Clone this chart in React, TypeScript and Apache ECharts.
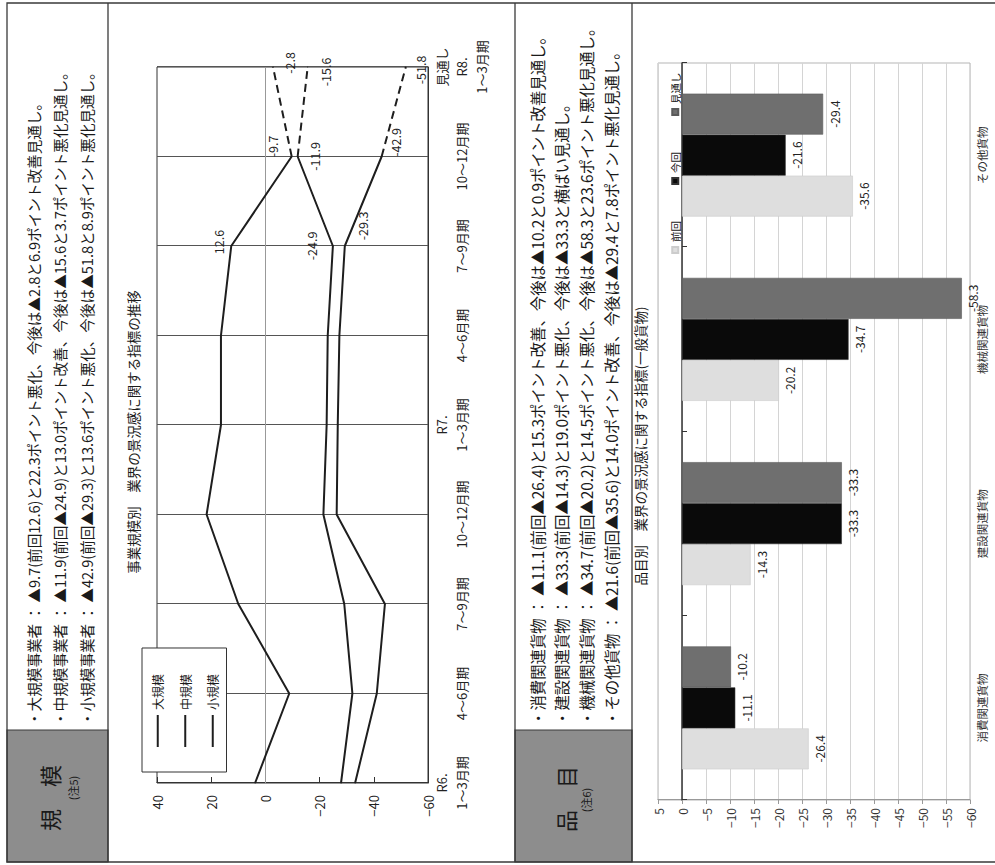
import React, { useEffect, useRef } from "react";
import * as echarts from "echarts";

const FONT = '"Noto Sans CJK JP", "Noto Sans", sans-serif';

// ---------- line chart data ----------
const periodYears = ["R6.", "", "", "", "R7.", "", "", "", "見通し\nR8."];
const periodQuarters = ["1～3月期", "4～6月期", "7～9月期", "10～12月期", "1～3月期", "4～6月期", "7～9月期", "10～12月期", "1～3月期"];
const scaleNames = ["大規模", "中規模", "小規模"];
const largeValues = [3.8, -8.8, 10.0, 21.7, 16.4, 16.4, 12.6, -9.7, -2.8];
const mediumValues = [-27.9, -32.1, -29.1, -21.4, -22.6, -23.0, -24.9, -11.9, -15.6];
const smallValues = [-33.1, -41.1, -44.1, -26.3, -26.7, -27.3, -29.3, -42.9, -51.8];
const lineAxisMin = -60;
const lineAxisMax = 40;
const lineAxisStep = 20;

// ---------- bar chart data ----------
const itemCategories = ["消費関連貨物", "建設関連貨物", "機械関連貨物", "その他貨物"];
const barSeriesNames = ["前回", "今回", "見通し"];
const previousValues = [-26.4, -14.3, -20.2, -35.6];
const currentValues = [-11.1, -33.3, -34.7, -21.6];
const outlookValues = [-10.2, -33.3, -58.3, -29.4];
const barAxisMin = -60;
const barAxisMax = 5;
const barAxisStep = 5;

// ---------- texts ----------
const lineChartTitle = "事業規模別　業界の景況感に関する指標の推移";
const barChartTitle = "品目別　業界の景況感に関する指標(一般貨物)";
const scaleHeader = "規　模";
const scaleNote = "(注5)";
const itemHeader = "品　目";
const itemNote = "(注6)";
const scaleNotes = [
  "・大規模事業者 ： ▲9.7(前回12.6)と22.3ポイント悪化、今後は▲2.8と6.9ポイント改善見通し。",
  "・中規模事業者 ： ▲11.9(前回▲24.9)と13.0ポイント改善、今後は▲15.6と3.7ポイント悪化見通し。",
  "・小規模事業者 ： ▲42.9(前回▲29.3)と13.6ポイント悪化、今後は▲51.8と8.9ポイント悪化見通し。",
];
const itemNotes = [
  "・消費関連貨物 ： ▲11.1(前回▲26.4)と15.3ポイント改善、今後は▲10.2と0.9ポイント改善見通し。",
  "・建設関連貨物 ： ▲33.3(前回▲14.3)と19.0ポイント悪化、今後は▲33.3と横ばい見通し。",
  "・機械関連貨物 ： ▲34.7(前回▲20.2)と14.5ポイント悪化、今後は▲58.3と23.6ポイント悪化見通し。",
  "・その他貨物 ： ▲21.6(前回▲35.6)と14.0ポイント改善、今後は▲29.4と7.8ポイント悪化見通し。",
];

// ---------- styling ----------
const INK = "#1e1e1e";
const FRAME = "#3a3a3a";
const HEADER_GRAY = "#8d8d8d";
const barColors = ["#dedede", "#0a0a0a", "#6f6f6f"];
const barBorders = ["#cccccc", "#333333", "#5a5a5a"];
const labelPlacement: any[] = [
  { 6: { position: "top", offset: [4, -1] }, 7: { position: "top", offset: [10, -7] }, 8: { position: "bottom", offset: [4, 5] } },
  { 6: { position: "top", offset: [0, -10] }, 7: { position: "bottom", offset: [0, 5] }, 8: { position: "bottom", offset: [-5, 6] } },
  { 6: { position: "bottom", offset: [20, 6] }, 7: { position: "bottom", offset: [14, 2] }, 8: { position: "bottom", offset: [-3, 3] } },
];
const minus = (v: any) => String(v).replace("-", "−");

function buildOption() {
  const categories = periodQuarters.map((q, i) => `${periodYears[i]}\n${q}`);
  const last = periodQuarters.length - 1;
  const lineSets = [largeValues, mediumValues, smallValues];
  const lineSeries: any[] = [];
  lineSets.forEach((vals, s) => {
    const place = labelPlacement[s];
    const withLabel = (v: number, i: number) =>
      place[i] ? { value: v, label: { show: true, ...place[i] } } : v;
    const common = {
      type: "line",
      xAxisIndex: 0,
      yAxisIndex: 0,
      symbol: "circle",
      symbolSize: 1,
      silent: true,
      itemStyle: { color: INK },
      label: { show: false, fontSize: 12.5, color: "#222", fontFamily: FONT },
      z: 3,
    };
    lineSeries.push({
      ...common,
      name: scaleNames[s],
      data: vals.map((v, i) => (i === last ? null : withLabel(v, i))),
      lineStyle: { color: INK, width: 2 },
      ...(s === 0
        ? {
            markLine: {
              silent: true,
              symbol: "none",
              label: { show: false },
              lineStyle: { color: "#999", type: "solid", width: 1 },
              data: [{ yAxis: 0 }],
              z: 1,
            },
          }
        : {}),
    });
    lineSeries.push({
      ...common,
      name: scaleNames[s] + "見通し",
      data: vals.map((v, i) => (i < last - 1 ? null : i === last ? withLabel(v, i) : v)),
      lineStyle: { color: INK, width: 2, type: [8, 5] },
    });
  });

  const barSets = [previousValues, currentValues, outlookValues];
  const barSeries = barSets.map((vals, i) => ({
    name: barSeriesNames[i],
    type: "bar",
    xAxisIndex: 1,
    yAxisIndex: 1,
    data: vals,
    barWidth: 41,
    barGap: "0%",
    silent: true,
    itemStyle: { color: barColors[i], borderColor: barBorders[i], borderWidth: 0.6 },
    label: { show: true, position: "bottom", distance: 5, fontSize: 12, color: "#222", fontFamily: FONT },
  }));

  const textEl = (text: string, x: number, y: number, fontSize: number, align = "left") => ({
    type: "text",
    x,
    y,
    silent: true,
    style: { text, fontSize, fontFamily: FONT, fill: "#1a1a1a", align, verticalAlign: "middle" },
  });
  const hLine = (v: number) => ({
    type: "line",
    silent: true,
    shape: { x1: 3, y1: v, x2: 862, y2: v },
    style: { stroke: FRAME, lineWidth: 1.3 },
  });

  const graphicEls: any[] = [
    { type: "rect", silent: true, shape: { x: 3, y: 7, width: 132, height: 101 }, style: { fill: HEADER_GRAY, stroke: FRAME, lineWidth: 1.2 } },
    { type: "rect", silent: true, shape: { x: 3, y: 515, width: 132, height: 117 }, style: { fill: HEADER_GRAY, stroke: FRAME, lineWidth: 1.2 } },
    { type: "rect", silent: true, shape: { x: 3, y: 7, width: 859, height: 1100 }, style: { fill: "transparent", stroke: FRAME, lineWidth: 1.3 } },
    hLine(108),
    hLine(515),
    hLine(632),
    textEl(scaleHeader, 67, 49, 22, "center"),
    textEl(scaleNote, 77, 73, 11, "center"),
    textEl(itemHeader, 66, 565, 22, "center"),
    textEl(itemNote, 65, 586, 11, "center"),
  ];
  const scaleLineV = [33, 59, 86];
  scaleNotes.forEach((t, i) => graphicEls.push(textEl(t, 139, scaleLineV[i], 14.6)));
  const itemLineV = [537, 561, 586, 611];
  itemNotes.forEach((t, i) => graphicEls.push(textEl(t, 139, itemLineV[i], 15.4)));

  return {
    animation: false,
    backgroundColor: "#ffffff",
    textStyle: { fontFamily: FONT },
    title: [
      { text: lineChartTitle, left: 433, top: 126, textAlign: "center", padding: 0, textStyle: { fontSize: 13.5, fontWeight: "normal", color: "#1a1a1a", fontFamily: FONT } },
      { text: barChartTitle, left: 419, top: 633, textAlign: "center", padding: 0, textStyle: { fontSize: 13.5, fontWeight: "normal", color: "#1a1a1a", fontFamily: FONT } },
    ],
    legend: [
      {
        data: scaleNames,
        orient: "vertical",
        left: 93,
        top: 142,
        padding: [2, 26, 0, 25],
        itemGap: 0,
        itemWidth: 32,
        itemHeight: 2,
        icon: "rect",
        backgroundColor: "#ffffff",
        borderColor: "#333",
        borderWidth: 1,
        selectedMode: false,
        textStyle: { fontSize: 12, lineHeight: 27.5, color: "#1a1a1a", fontFamily: FONT },
      },
      {
        data: barSeriesNames,
        left: 611,
        top: 670,
        padding: 0,
        itemGap: 36,
        itemWidth: 6,
        itemHeight: 6,
        itemTextGap: 4,
        icon: "rect",
        selectedMode: false,
        textStyle: { fontSize: 10.5, color: "#222", fontFamily: FONT },
      },
    ],
    grid: [
      { left: 82, right: 67, top: 157, bottom: 567, show: true, borderColor: "#333", borderWidth: 1, containLabel: false },
      { left: 65, right: 63, top: 658, bottom: 25, show: true, borderColor: "#b5b5b5", borderWidth: 1, containLabel: false },
    ],
    xAxis: [
      {
        type: "category",
        gridIndex: 0,
        data: categories,
        boundaryGap: false,
        axisLine: { show: true, onZero: false, lineStyle: { color: "#333" } },
        axisTick: { show: false },
        axisLabel: { interval: 0, fontSize: 13, lineHeight: 20, margin: 3, color: "#222", fontFamily: FONT },
        splitLine: { show: true, interval: 0, lineStyle: { color: "#555", width: 1 } },
      },
      {
        type: "category",
        gridIndex: 1,
        data: itemCategories,
        position: "bottom",
        axisLine: { show: false, onZero: false },
        axisTick: { show: false },
        axisLabel: { interval: 0, fontSize: 11.5, margin: 6, color: "#333", fontFamily: FONT },
        splitLine: { show: false },
      },
      {
        type: "category",
        gridIndex: 1,
        data: itemCategories,
        position: "top",
        axisLine: { show: true, onZero: true, lineStyle: { color: "#333", width: 1.5 } },
        axisTick: { show: true, inside: true, length: 5, lineStyle: { color: "#333" } },
        axisLabel: { show: false },
        splitLine: { show: false },
      },
    ],
    yAxis: [
      {
        type: "value",
        gridIndex: 0,
        min: lineAxisMin,
        max: lineAxisMax,
        interval: lineAxisStep,
        axisLine: { show: true, lineStyle: { color: "#333" } },
        axisTick: { show: true, inside: true, length: 6, lineStyle: { color: "#333" } },
        axisLabel: { fontSize: 13, margin: 12, color: "#222", fontFamily: FONT, formatter: minus },
        splitLine: { show: false },
      },
      {
        type: "value",
        gridIndex: 1,
        min: barAxisMin,
        max: barAxisMax,
        interval: barAxisStep,
        axisLine: { show: true, lineStyle: { color: "#999" } },
        axisTick: { show: true, length: 4, lineStyle: { color: "#999" } },
        axisLabel: { fontSize: 12, margin: 8, color: "#333", fontFamily: FONT, formatter: minus },
        splitLine: { show: true, lineStyle: { color: "#d4d4d4", width: 1 } },
      },
    ],
    series: [...lineSeries, ...barSeries],
    graphic: { elements: graphicEls },
  };
}

export default function App() {
  const ref = useRef<HTMLDivElement>(null);
  useEffect(() => {
    document.body.style.overflow = "hidden";
    const chart = echarts.init(ref.current as HTMLDivElement, undefined, { renderer: "svg" });
    chart.setOption(buildOption() as any);
    return () => chart.dispose();
  }, []);
  return (
    <div style={{ position: "fixed", left: 0, top: 0, width: 995, height: 865, overflow: "hidden", background: "#fff" }}>
      <div
        ref={ref}
        style={{
          position: "absolute",
          left: 0,
          top: 0,
          width: 865,
          height: 995,
          transformOrigin: "0 0",
          transform: "translate(0px, 865px) rotate(-90deg)",
        }}
      />
    </div>
  );
}
